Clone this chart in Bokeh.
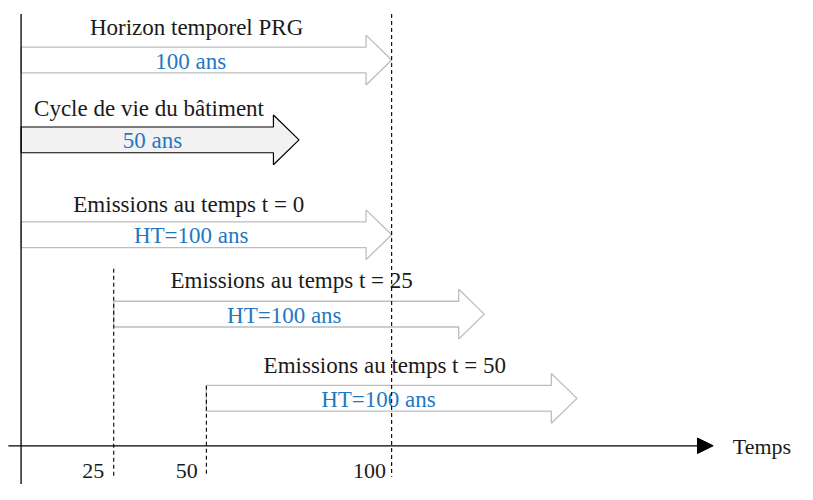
from bokeh.plotting import figure
from bokeh.models import Range1d
from bokeh.core.properties import value
from bokeh.embed import file_html
from bokeh.resources import INLINE

# ---- data ----
arrow_titles = ["Horizon temporel PRG", "Cycle de vie du bâtiment",
                "Emissions au temps t = 0", "Emissions au temps t = 25",
                "Emissions au temps t = 50"]
arrow_inner = ["100 ans", "50 ans", "HT=100 ans", "HT=100 ans", "HT=100 ans"]
arrow_start = [0, 0, 0, 25, 50]
arrow_end = [100, 75, 100, 125, 150]
tick_values = [25, 50, 100]
tick_labels = ["25", "50", "100"]
axis_label = "Temps"

# ---- layout (reference-pixel units) ----
ORIGIN = 21.0     # px of t = 0
SCALE = 3.78      # px per time unit
REF_W, REF_H = 813, 500
row_y = [61.5, 144, 242, 324, 411]
title_x = [200, 151.5, 192, 297, 392]
title_y = [28, 112, 211, 289, 377]
inner_x = [194, 155, 194.5, 289.5, 385.5]
dash_top = {25: 277, 50: 398, 100: 14}
tick_x = [94.5, 190, 376.5]
FONT = value("Liberation Serif")
BLUE = "#1f78c4"
GRAY = "#bdbdbd"
INK = "#1a1a1a"


def tx(px):
    return (px - ORIGIN) / SCALE


W, H = 797, 484
p = figure(width=W, height=H, output_backend="svg", toolbar_location=None,
           x_range=Range1d(tx(0), tx(REF_W)),
           y_range=Range1d(REF_H, 0), min_border=0)
p.axis.visible = False
p.grid.visible = False
p.outline_line_color = None
p.background_fill_color = "white"

head_len = 6.9
body_h = 13.3
head_h = 25.7

for i in range(len(arrow_titles)):
    x0, x1 = arrow_start[i], arrow_end[i]
    yc = row_y[i]
    xb = x1 - head_len
    xs = [x0, xb, xb, x1, xb, xb, x0]
    ys = [yc - body_h, yc - body_h, yc - head_h, yc, yc + head_h,
          yc + body_h, yc + body_h]
    if i == 1:
        p.patch(xs, ys, fill_color="#f2f2f2", line_color="black", line_width=1.2)
    else:
        p.patch(xs, ys, fill_color="white", line_color=GRAY, line_width=1.3)
    p.text(x=[tx(title_x[i])], y=[title_y[i]], text=[arrow_titles[i]],
           text_align="center", text_baseline="middle", text_font=FONT,
           text_font_size="23px", text_color=INK)
    p.text(x=[tx(inner_x[i])], y=[yc + 1], text=[arrow_inner[i]],
           text_align="center", text_baseline="middle", text_font=FONT,
           text_font_size="23px", text_color=BLUE)

# dashed guide lines and tick labels
for t, lab, lx in zip(tick_values, tick_labels, tick_x):
    p.line([t, t], [dash_top[t], 492], line_color="black", line_width=1.1,
           line_dash="4 3")
    p.text(x=[tx(lx)], y=[486], text=[lab], text_align="center",
           text_baseline="middle", text_font=FONT, text_font_size="22px",
           text_color=INK)

# vertical axis line at t = 0
p.line([0, 0], [14, REF_H], line_color="black", line_width=1.3)

# horizontal time axis with arrow head
p.line([tx(8), tx(711)], [460, 460], line_color="black", line_width=1.3)
p.patch([tx(711), tx(727), tx(711)], [452, 460, 468], fill_color="black",
        line_color="black")
p.text(x=[tx(747)], y=[461], text=[axis_label], text_align="left",
       text_baseline="middle", text_font=FONT, text_font_size="22px",
       text_color=INK)

open("out.html", "w").write(file_html(p, INLINE))
